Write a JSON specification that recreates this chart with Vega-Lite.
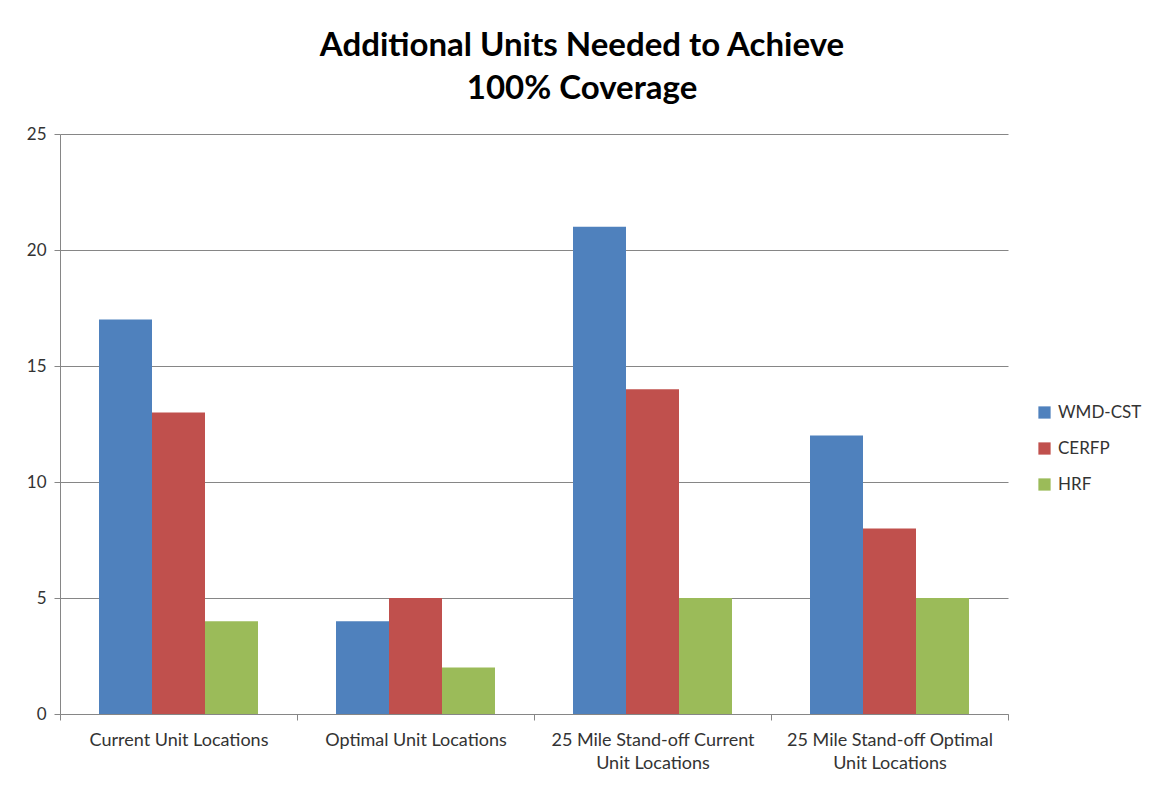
{
  "$schema": "https://vega.github.io/schema/vega-lite/v6.json",
  "width": 948,
  "height": 580,
  "autosize": "none",
  "padding": {"left": 60, "top": 134, "right": 142, "bottom": 71},
  "background": "white",
  "title": {
    "text": ["Additional Units Needed to Achieve", "100% Coverage"],
    "font": "Lato",
    "fontSize": 33,
    "fontWeight": "bold",
    "color": "#000000",
    "lineHeight": 43,
    "anchor": "middle",
    "dx": 48,
    "offset": 19
  },
  "data": {
    "values": [
      {"location": "Current Unit Locations", "unit": "WMD-CST", "count": 17},
      {"location": "Current Unit Locations", "unit": "CERFP", "count": 13},
      {"location": "Current Unit Locations", "unit": "HRF", "count": 4},
      {"location": "Optimal Unit Locations", "unit": "WMD-CST", "count": 4},
      {"location": "Optimal Unit Locations", "unit": "CERFP", "count": 5},
      {"location": "Optimal Unit Locations", "unit": "HRF", "count": 2},
      {"location": "25 Mile Stand-off Current Unit Locations", "unit": "WMD-CST", "count": 21},
      {"location": "25 Mile Stand-off Current Unit Locations", "unit": "CERFP", "count": 14},
      {"location": "25 Mile Stand-off Current Unit Locations", "unit": "HRF", "count": 5},
      {"location": "25 Mile Stand-off Optimal Unit Locations", "unit": "WMD-CST", "count": 12},
      {"location": "25 Mile Stand-off Optimal Unit Locations", "unit": "CERFP", "count": 8},
      {"location": "25 Mile Stand-off Optimal Unit Locations", "unit": "HRF", "count": 5}
    ]
  },
  "mark": {"type": "bar"},
  "encoding": {
    "x": {
      "field": "location",
      "type": "nominal",
      "sort": null,
      "scale": {"paddingInner": 0, "paddingOuter": 0},
      "axis": {
        "title": null,
        "labelAngle": 0,
        "labelFont": "Lato",
        "labelFontSize": 18,
        "labelColor": "#333333",
        "labelLineHeight": 23,
        "labelPadding": 11,
        "labelLimit": 300,
        "labelExpr": "length(datum.label) > 24 ? [replace(datum.label, ' Unit Locations', ''), 'Unit Locations'] : datum.label",
        "tickBand": "extent",
        "ticks": true,
        "tickSize": 6,
        "tickColor": "#868686",
        "domainColor": "#868686",
        "grid": false
      }
    },
    "xOffset": {
      "field": "unit",
      "type": "nominal",
      "sort": ["WMD-CST", "CERFP", "HRF"],
      "scale": {"paddingInner": 0, "paddingOuter": 0.736}
    },
    "y": {
      "field": "count",
      "type": "quantitative",
      "scale": {"domain": [0, 25]},
      "axis": {
        "title": null,
        "values": [0, 5, 10, 15, 20, 25],
        "labelFont": "Lato",
        "labelFontSize": 17,
        "labelColor": "#333333",
        "labelPadding": 8,
        "tickSize": 6,
        "tickColor": "#868686",
        "domainColor": "#868686",
        "gridColor": "#868686",
        "gridWidth": 1
      }
    },
    "color": {
      "field": "unit",
      "type": "nominal",
      "sort": ["WMD-CST", "CERFP", "HRF"],
      "scale": {"domain": ["WMD-CST", "CERFP", "HRF"], "range": ["#4F81BD", "#C0504D", "#9BBB59"]},
      "legend": {
        "title": null,
        "orient": "none",
        "legendX": 976,
        "legendY": 270,
        "symbolType": "square",
        "symbolSize": 150,
        "symbolStrokeWidth": 0,
        "labelFont": "Lato",
        "labelFontSize": 17,
        "labelColor": "#333333",
        "rowPadding": 18,
        "labelOffset": 5
      }
    }
  },
  "config": {
    "view": {"stroke": null}
  }
}
